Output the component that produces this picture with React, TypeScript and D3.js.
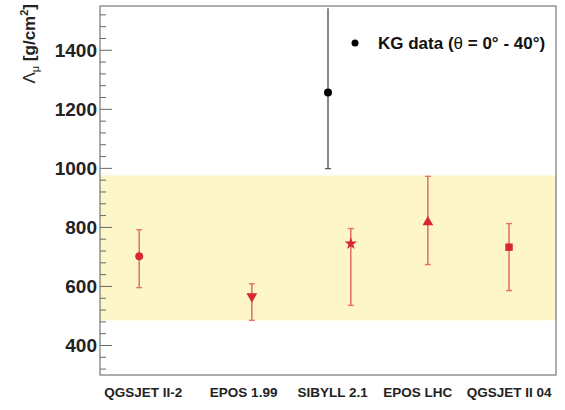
import React from "react";
import * as d3 from "d3";

const models = ["QGSJET II-2", "EPOS 1.99", "SIBYLL 2.1", "EPOS LHC", "QGSJET II 04"];
const modelPos = [0.86, 3.33, 5.5, 7.19, 8.97];
const labelPos = [0.95, 3.15, 5.1, 6.97, 8.97];
const modelValue = [702, 566, 745, 818, 733];
const modelLow = [596, 485, 536, 674, 586];
const modelHigh = [792, 609, 796, 973, 813];
const modelShape = ["circle", "triangleDown", "star", "triangle", "square"];

const kgPos = [5.0];
const kgValue = [1257];
const kgLow = [999];
const kgHigh = [1542];

const bandLow = 485;
const bandHigh = 976;

const yMajor = [400, 600, 800, 1000, 1200, 1400];
const yMinor = d3.range(320, 1550, 40);

const W = 565, H = 410;
const L = 100, R = 556, T = 6, B = 375;

export default function App() {
  const x = d3.scaleLinear().domain([0, 10]).range([L, R]);
  const y = d3.scaleLinear().domain([300, 1550]).range([B, T]);
  const red = "#d8282e";
  const redLight = "#e57373";

  const sym = (s: string) => {
    if (s === "circle") return { d: d3.symbol(d3.symbolCircle, 50)()!, rot: 0 };
    if (s === "triangleDown") return { d: d3.symbol(d3.symbolTriangle, 50)()!, rot: 180 };
    if (s === "triangle") return { d: d3.symbol(d3.symbolTriangle, 50)()!, rot: 0 };
    if (s === "star") return { d: d3.symbol(d3.symbolStar, 48)()!, rot: 0 };
    return { d: d3.symbol(d3.symbolSquare, 55)()!, rot: 0 };
  };

  return (
    <svg width={W} height={H} style={{ position: "absolute", left: 0, top: 0, background: "#fff" }}
      fontFamily="Liberation Sans, Arial, sans-serif">
      <rect x={L} y={y(bandHigh)} width={R - L} height={y(bandLow) - y(bandHigh)} fill="#fcf6c9" />
      {yMinor.filter((v) => !yMajor.includes(v) && v > 300 && v < 1550).map((v) => (
        <line key={"m" + v} x1={L} x2={L + 6} y1={y(v)} y2={y(v)} stroke="#666" strokeWidth={1} />
      ))}
      {yMajor.map((v) => (
        <g key={"M" + v}>
          <line x1={L} x2={L + 12} y1={y(v)} y2={y(v)} stroke="#666" strokeWidth={1} />
          <text x={L - 3} y={y(v)} dy="0.36em" textAnchor="end" fontSize={19} fontWeight="bold" fill="#222">{v}</text>
        </g>
      ))}
      <rect x={L} y={T} width={R - L} height={B - T} fill="none" stroke="#777" strokeWidth={1.2} />

      {models.map((m, i) => {
        const s = sym(modelShape[i]);
        const cx = x(modelPos[i]);
        return (
          <g key={m}>
            <line x1={cx} x2={cx} y1={y(modelLow[i])} y2={y(modelHigh[i])} stroke={redLight} strokeWidth={1.6} />
            <line x1={cx - 3} x2={cx + 3} y1={y(modelLow[i])} y2={y(modelLow[i])} stroke={redLight} strokeWidth={1.4} />
            <line x1={cx - 3} x2={cx + 3} y1={y(modelHigh[i])} y2={y(modelHigh[i])} stroke={redLight} strokeWidth={1.4} />
            <path d={s.d} transform={`translate(${cx},${y(modelValue[i])}) rotate(${s.rot})`} fill={red} />
          </g>
        );
      })}

      {kgPos.map((p, i) => {
        const cx = x(p);
        return (
          <g key={"kg" + i}>
            <line x1={cx} x2={cx} y1={y(kgLow[i])} y2={y(kgHigh[i])} stroke="#555" strokeWidth={1.4} />
            <line x1={cx - 3} x2={cx + 3} y1={y(kgLow[i])} y2={y(kgLow[i])} stroke="#555" strokeWidth={1.2} />
            <circle cx={cx} cy={y(kgValue[i])} r={4} fill="#000" />
          </g>
        );
      })}

      <circle cx={355} cy={43} r={3.5} fill="#000" />
      <text x={378} y={49} fontSize={17} fontWeight="bold" fill="#111">
        KG data (<tspan fontWeight="normal">θ</tspan> = 0° - 40°)
      </text>

      {models.map((m, i) => (
        <text key={"l" + m} x={x(labelPos[i])} y={397} textAnchor="middle" fontSize={13.5} fontWeight="bold" fill="#222">{m}</text>
      ))}

      <text transform="translate(35,4) rotate(-90)" textAnchor="end" fontSize={17} fill="#222">
        <tspan>Λ</tspan>
        <tspan fontSize={11} dy="4">μ</tspan>
        <tspan dy="-4" fontWeight="bold"> [g/cm</tspan>
        <tspan fontWeight="bold" fontSize={11} dy="-7">2</tspan>
        <tspan fontWeight="bold" dy="7">]</tspan>
      </text>
    </svg>
  );
}
